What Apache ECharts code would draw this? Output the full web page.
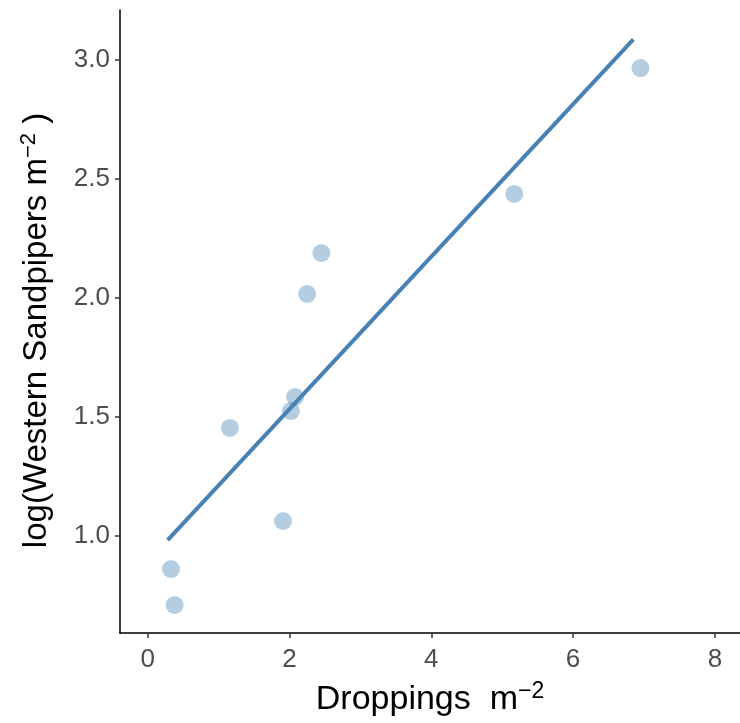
<!DOCTYPE html>
<html>
<head>
<meta charset="utf-8">
<script src="https://cdn.jsdelivr.net/npm/echarts@6/dist/echarts.min.js"></script>
<style>
  html, body { margin: 0; padding: 0; background: #fff; }
  #chart { width: 740px; height: 723px; }
</style>
</head>
<body>
<div id="chart"></div>
<script>
// Dropping density vs. log sandpiper density
const droppings = [0.33, 0.38, 1.16, 1.91, 2.02, 2.08, 2.25, 2.45, 5.17, 6.95];
const logSandpipers = [0.861, 0.71, 1.454, 1.063, 1.525, 1.584, 2.017, 2.189, 2.437, 2.966];

// Fitted linear trend, drawn between its two end points
const fitX = [0.282, 6.85];
const fitY = [0.983, 3.087];

const xTicks = [0, 2, 4, 6, 8];
const yTicks = [1.0, 1.5, 2.0, 2.5, 3.0];

const points = droppings.map((x, i) => [x, logSandpipers[i]]);
const fitLine = fitX.map((x, i) => [x, fitY[i]]);

const chart = echarts.init(document.getElementById('chart'), null, { renderer: 'canvas' });

const FONT = 'Liberation Sans, Arial, sans-serif';
const tickLabel = { color: '#4d4d4d', fontSize: 26, fontFamily: FONT };
const xTitleRich = {
  base: { fontSize: 34, color: '#000', fontFamily: FONT },
  sup: { fontSize: 23, color: '#000', fontFamily: FONT, verticalAlign: 'top', padding: [0, 0, 16, 0] }
};
const yTitleRich = {
  base: { fontSize: 33, color: '#000', fontFamily: FONT },
  sup: { fontSize: 22, color: '#000', fontFamily: FONT, verticalAlign: 'top', padding: [0, 0, 16, 0] }
};

chart.setOption({
  animation: false,
  backgroundColor: '#fff',
  grid: { left: 120, right: 0, top: 10, bottom: 90, containLabel: false },
  xAxis: {
    type: 'value',
    min: -0.39,
    max: 8.354,
    splitLine: { show: false },
    axisLine: { show: true, onZero: false, lineStyle: { color: '#000', width: 1.5 } },
    axisTick: { show: true, length: 5, lineStyle: { color: '#333', width: 1.5 }, customValues: xTicks },
    axisLabel: Object.assign({ margin: 14, customValues: xTicks, formatter: v => String(v) }, tickLabel),
    name: '{base|Droppings  m}{sup|−2}',
    nameLocation: 'middle',
    nameGap: 47,
    nameTextStyle: { rich: xTitleRich }
  },
  yAxis: {
    type: 'value',
    min: 0.5924,
    max: 3.21,
    splitLine: { show: false },
    axisLine: { show: true, onZero: false, lineStyle: { color: '#000', width: 1.5 } },
    axisTick: { show: true, length: 5, lineStyle: { color: '#333', width: 1.5 }, customValues: yTicks },
    axisLabel: Object.assign({ margin: 10, customValues: yTicks, formatter: v => v.toFixed(1) }, tickLabel),
    name: '{base|log(Western Sandpipers m}{sup|−2}{base| )}',
    nameLocation: 'middle',
    nameGap: 64,
    nameRotate: 90,
    nameTextStyle: { rich: yTitleRich, padding: [0, 18, 0, 0] }
  },
  series: [
    {
      type: 'scatter',
      data: points,
      symbolSize: 18,
      itemStyle: { color: 'rgba(70,130,180,0.5)' },
      z: 2
    },
    {
      type: 'line',
      data: fitLine,
      symbol: 'none',
      lineStyle: { color: '#4682B4', width: 4 },
      z: 3
    }
  ]
});
</script>
</body>
</html>
